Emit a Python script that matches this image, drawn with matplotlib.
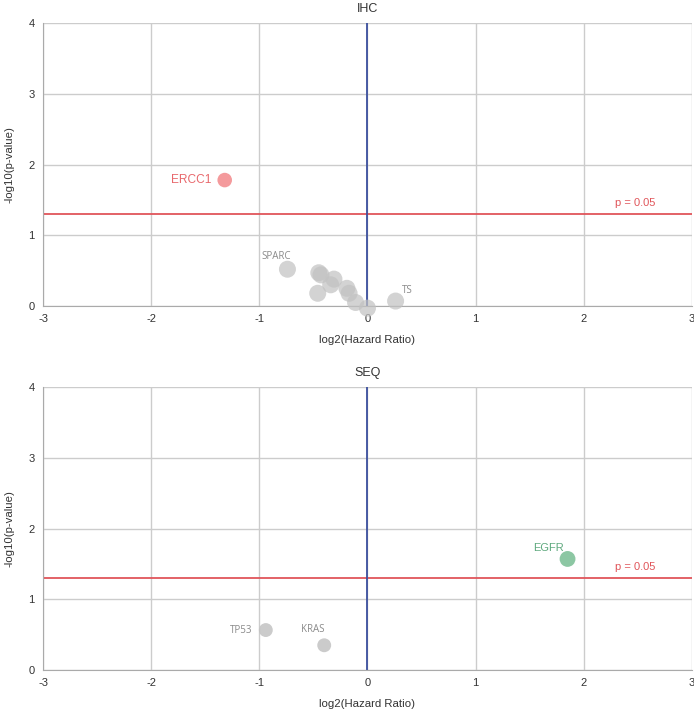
import matplotlib
matplotlib.use("Agg")
import matplotlib.pyplot as plt

# IHC panel data
ihc_genes = ["ERCC1", "SPARC", "g3", "g4", "g5", "g6", "g7", "g8", "g9", "g10", "g11", "TS"]
ihc_x = [-1.32, -0.74, -0.45, -0.43, -0.31, -0.34, -0.46, -0.19, -0.17, -0.11, 0.0, 0.26]
ihc_y = [1.78, 0.52, 0.47, 0.44, 0.38, 0.30, 0.18, 0.25, 0.18, 0.05, -0.03, 0.07]

# SEQ panel data
seq_genes = ["EGFR", "TP53", "KRAS"]
seq_x = [1.85, -0.94, -0.40]
seq_y = [1.57, 0.565, 0.35]

threshold = 1.30103  # -log10(0.05)
xticks = [-3, -2, -1, 0, 1, 2, 3]
yticks = [0, 1, 2, 3, 4]

GREY = "#c2c2c2"
RED_PT = "#f49a9c"
GREEN_PT = "#8cc7a3"
LINE_RED = "#e0555a"
LINE_BLUE = "#3b4f9e"
LABEL_GREY = "#8a8a8a"

plt.rcParams["font.family"] = ["Liberation Sans", "DejaVu Sans"]

fig = plt.figure(figsize=(6.94, 7.1), dpi=100)
ax1 = fig.add_axes([0.062, 0.569, 0.935, 0.3986])
ax2 = fig.add_axes([0.062, 0.0563, 0.935, 0.3986])

def style(ax, title):
    ax.set_xlim(-3, 3)
    ax.set_ylim(0, 4)
    ax.set_xticks(xticks)
    ax.set_yticks(yticks)
    ax.set_xticklabels([str(t) for t in xticks])
    ax.grid(True, color="#cccccc", linewidth=1.0)
    ax.set_axisbelow(True)
    for s in ["top", "right"]:
        ax.spines[s].set_visible(False)
    for s in ["left", "bottom"]:
        ax.spines[s].set_color("#aaaaaa")
    ax.tick_params(length=0, labelsize=8, colors="#333333", pad=6)
    ax.set_xlabel("log2(Hazard Ratio)", fontsize=8.2, color="#333333", labelpad=8)
    ax.set_ylabel("-log10(p-value)", fontsize=8.2, color="#333333", labelpad=10)
    ax.set_title(title, fontsize=9, color="#333333", pad=8)
    ax.axhline(threshold, color=LINE_RED, linewidth=1.3, zorder=2)
    ax.axvline(0, color=LINE_BLUE, linewidth=1.3, zorder=2)
    ax.text(2.48, threshold + 0.08, "p = 0.05", color=LINE_RED, fontsize=8,
            ha="center", va="bottom")

style(ax1, "IHC")
style(ax2, "SEQ")

# IHC points
for g, x, y in zip(ihc_genes, ihc_x, ihc_y):
    if g == "ERCC1":
        ax1.scatter(x, y, s=110, color=RED_PT, edgecolors="none", zorder=3, clip_on=False)
    else:
        ax1.scatter(x, y, s=150, color=GREY, alpha=0.72, edgecolors="none", zorder=3, clip_on=False)

lf = ["Open Sans", "DejaVu Sans"]
ax1.text(-1.44, 1.78, "ERCC1", color="#e8686c", fontsize=8.6, ha="right", va="center")
ax1.text(-0.84, 0.62, "SPARC", color=LABEL_GREY, fontsize=7, ha="center", va="bottom", family=lf)
ax1.text(0.37, 0.14, "TS", color=LABEL_GREY, fontsize=7, ha="center", va="bottom", family=lf)

# SEQ points
ax2.scatter(seq_x[0], seq_y[0], s=130, color=GREEN_PT, edgecolors="none", zorder=3)
ax2.scatter(seq_x[1:], seq_y[1:], s=100, color=GREY, alpha=0.85, edgecolors="none", zorder=3)
ax2.text(1.67, 1.65, "EGFR", color="#5fa97e", fontsize=8, ha="center", va="bottom")
ax2.text(-1.06, 0.565, "TP53", color=LABEL_GREY, fontsize=7, ha="right", va="center", family=lf)
ax2.text(-0.51, 0.50, "KRAS", color=LABEL_GREY, fontsize=7, ha="center", va="bottom", family=lf)

fig.savefig("out.png", dpi=100)
